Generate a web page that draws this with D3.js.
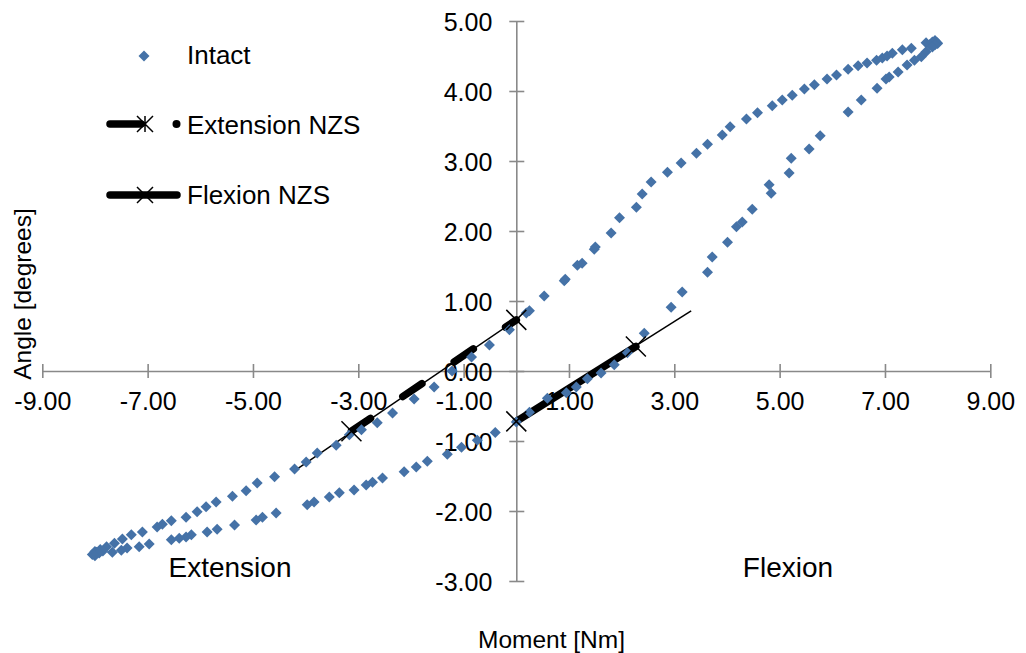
<!DOCTYPE html>
<html>
<head>
<meta charset="utf-8">
<script src="https://cdn.jsdelivr.net/npm/d3@7"></script>
<style>
  html, body { margin: 0; padding: 0; background: #fff; }
  svg { display: block; font-family: "Liberation Sans", Arial, sans-serif; }
</style>
</head>
<body>
<svg id="chart" width="1026" height="653"></svg>
<script>
// ---------------- data ----------------
const xTicks = [-9, -7, -5, -3, -1, 1, 3, 5, 7, 9];
const yTicks = [-3, -2, -1, 0, 1, 2, 3, 4, 5];

// Intact: branch running from extension end up to flexion end (upper)
const upperM = [-8.05, -8.0, -7.97, -7.9, -7.78, -7.63, -7.48, -7.31, -7.10, -6.82, -6.72, -6.55, -6.27, -6.06, -5.89, -5.70, -5.39, -5.13, -4.92, -4.59, -4.21, -3.99, -3.78, -3.42, -3.17, -2.94, -2.64, -2.35, -1.94, -1.56, -1.22, -0.85, -0.51, -0.13, 0.19, 0.25, 0.53, 0.91, 0.93, 1.16, 1.25, 1.48, 1.50, 1.80, 1.96, 2.28, 2.39, 2.56, 2.87, 3.13, 3.42, 3.63, 3.91, 4.06, 4.37, 4.58, 4.86, 5.05, 5.24, 5.47, 5.66, 5.90, 6.08, 6.30, 6.49, 6.66, 6.84, 6.95, 7.04, 7.14, 7.33, 7.50, 7.78, 7.85, 7.90, 7.95, 7.99, 8.0];
const upperA = [-2.62, -2.58, -2.59, -2.55, -2.51, -2.46, -2.40, -2.34, -2.30, -2.23, -2.19, -2.14, -2.09, -2.01, -1.94, -1.87, -1.79, -1.71, -1.60, -1.51, -1.40, -1.30, -1.17, -1.06, -0.91, -0.84, -0.74, -0.60, -0.40, -0.23, 0.00, 0.20, 0.37, 0.59, 0.83, 0.86, 1.07, 1.29, 1.31, 1.51, 1.54, 1.74, 1.77, 1.97, 2.19, 2.34, 2.53, 2.70, 2.84, 2.97, 3.11, 3.24, 3.37, 3.49, 3.60, 3.69, 3.79, 3.87, 3.94, 4.03, 4.09, 4.17, 4.23, 4.31, 4.36, 4.40, 4.44, 4.47, 4.50, 4.54, 4.59, 4.61, 4.69, 4.66, 4.70, 4.72, 4.69, 4.68];

// Intact: branch running from flexion end back to extension end (lower)
const lowerM = [7.95, 7.90, 7.78, 7.69, 7.56, 7.42, 7.25, 7.08, 7.02, 6.85, 6.55, 6.30, 5.77, 5.56, 5.22, 5.18, 4.80, 4.84, 4.48, 4.29, 4.18, 4.01, 3.72, 3.63, 3.15, 2.94, 2.43, 2.11, 1.86, 1.61, 1.35, 1.14, 0.95, 0.59, 0.25, 0.00, -0.40, -0.74, -1.04, -1.31, -1.69, -1.90, -2.13, -2.54, -2.73, -2.85, -3.08, -3.36, -3.55, -3.84, -3.97, -4.56, -4.82, -4.94, -5.35, -5.68, -5.87, -6.17, -6.27, -6.40, -6.55, -6.97, -7.16, -7.39, -7.50, -7.67, -7.85, -7.92, -8.0];
const lowerA = [4.66, 4.63, 4.56, 4.49, 4.44, 4.37, 4.27, 4.20, 4.17, 4.04, 3.87, 3.70, 3.36, 3.17, 3.04, 2.83, 2.66, 2.54, 2.31, 2.13, 2.06, 1.84, 1.63, 1.41, 1.13, 0.91, 0.54, 0.26, 0.09, -0.03, -0.11, -0.23, -0.31, -0.39, -0.59, -0.73, -0.88, -0.99, -1.09, -1.19, -1.29, -1.37, -1.44, -1.53, -1.59, -1.63, -1.70, -1.74, -1.80, -1.87, -1.91, -2.03, -2.09, -2.13, -2.20, -2.26, -2.30, -2.34, -2.37, -2.39, -2.41, -2.47, -2.51, -2.53, -2.56, -2.59, -2.57, -2.60, -2.64];

// Extension neutral-zone stiffness segment and its trend line
const extNzsM = [-3.13, 0.0];
const extNzsA = [-0.86, 0.73];
const extTrendM = [-4.2, 0.0];
const extTrendA = [-1.42, 0.73];

// Flexion neutral-zone stiffness segment and its trend line
const flexNzsM = [0.0, 2.27];
const flexNzsA = [-0.72, 0.35];
const flexTrendM = [0.0, 3.32];
const flexTrendA = [-0.72, 0.86];

const seriesNames = ["Intact", "Extension NZS", "Flexion NZS"];
const regionLabels = ["Extension", "Flexion"];
const xTitle = "Moment [Nm]";
const yTitle = "Angle [degrees]";

// ---------------- drawing ----------------
const svg = d3.select("#chart");
const x = d3.scaleLinear().domain([-9, 9]).range([42.3, 990.3]);
const y = d3.scaleLinear().domain([-3, 5]).range([581, 21]);

const blue = "#4572A7";
const axisGrey = "#898989";
const fmt = d => d.toFixed(2);
const zip = (a, b) => a.map((v, i) => [v, b[i]]);

// axes (crossing at origin, cross-type ticks)
const xAxis = svg.append("g").attr("transform", `translate(0,${y(0)})`)
  .call(d3.axisBottom(x).tickValues(xTicks).tickSize(7).tickSizeOuter(0).tickFormat(fmt));
xAxis.select(".domain").attr("stroke", axisGrey).attr("stroke-width", 1.6);
xAxis.selectAll(".tick line").attr("stroke", axisGrey).attr("stroke-width", 1.6).attr("y1", -7);
xAxis.selectAll(".tick text").attr("y", 39).attr("dy", null)
  .attr("font-size", 25).attr("fill", "#000").attr("font-family", "Liberation Sans, Arial, sans-serif");

const yAxis = svg.append("g").attr("transform", `translate(${x(0)},0)`)
  .call(d3.axisLeft(y).tickValues(yTicks).tickSize(7).tickSizeOuter(0).tickFormat(fmt));
yAxis.select(".domain").attr("stroke", axisGrey).attr("stroke-width", 1.6);
yAxis.selectAll(".tick line").attr("stroke", axisGrey).attr("stroke-width", 1.6).attr("x1", 8);
yAxis.selectAll(".tick text").attr("x", -24).attr("dy", "0.36em")
  .attr("font-size", 25).attr("fill", "#000").attr("font-family", "Liberation Sans, Arial, sans-serif");

const line = d3.line().x(d => x(d[0])).y(d => y(d[1]));

// trend lines (thin)
svg.append("path").attr("d", line(zip(extTrendM, extTrendA)))
  .attr("fill", "none").attr("stroke", "#000").attr("stroke-width", 1.5);
svg.append("path").attr("d", line(zip(flexTrendM, flexTrendA)))
  .attr("fill", "none").attr("stroke", "#000").attr("stroke-width", 1.5);

// NZS thick lines
svg.append("path").attr("d", line(zip(extNzsM, extNzsA)))
  .attr("fill", "none").attr("stroke", "#000").attr("stroke-width", 7.5)
  .attr("stroke-linecap", "round").attr("stroke-dasharray", "23,39");
svg.append("path").attr("d", line(zip(flexNzsM, flexNzsA)))
  .attr("fill", "none").attr("stroke", "#000").attr("stroke-width", 7.5)
  .attr("stroke-linecap", "round");

// intact diamonds
const diamond = "M0,-5.5L5.5,0L0,5.5L-5.5,0Z";
const intact = zip(upperM, upperA).concat(zip(lowerM, lowerA));
svg.append("g").selectAll("path").data(intact).join("path")
  .attr("d", diamond).attr("fill", blue)
  .attr("transform", d => `translate(${x(d[0])},${y(d[1])})`);

// X markers at NZS endpoints
const xMark = r => `M${-r},${-r}L${r},${r}M${-r},${r}L${r},${-r}`;
const nzsPts = zip(extNzsM, extNzsA).concat(zip(flexNzsM, flexNzsA));
svg.append("g").selectAll("path").data(nzsPts).join("path")
  .attr("d", xMark(10)).attr("stroke", "#000").attr("stroke-width", 1.5).attr("fill", "none")
  .attr("transform", d => `translate(${x(d[0])},${y(d[1])})`);

// region labels
svg.append("text").text(regionLabels[0]).attr("x", 230).attr("y", 577)
  .attr("text-anchor", "middle").attr("font-size", 28);
svg.append("text").text(regionLabels[1]).attr("x", 788).attr("y", 577)
  .attr("text-anchor", "middle").attr("font-size", 28);

// axis titles
svg.append("text").text(xTitle).attr("x", 551.5).attr("y", 648)
  .attr("text-anchor", "middle").attr("font-size", 24.5);
svg.append("text").text(yTitle).attr("transform", "translate(31,294) rotate(-90)")
  .attr("text-anchor", "middle").attr("font-size", 24.5);

// legend
const lg = svg.append("g").attr("font-size", 26);
lg.append("path").attr("d", diamond).attr("fill", blue).attr("transform", "translate(144,56)");
lg.append("text").text(seriesNames[0]).attr("x", 187).attr("y", 64);

lg.append("line").attr("x1", 110).attr("x2", 141).attr("y1", 124).attr("y2", 124)
  .attr("stroke", "#000").attr("stroke-width", 7.5).attr("stroke-linecap", "round");
lg.append("circle").attr("cx", 176.5).attr("cy", 124).attr("r", 4).attr("fill", "#000");
lg.append("path").attr("d", xMark(8) + "M0,-8L0,8").attr("stroke", "#000").attr("stroke-width", 1.5)
  .attr("transform", "translate(145,124)");
lg.append("text").text(seriesNames[1]).attr("x", 187).attr("y", 134);

lg.append("line").attr("x1", 110).attr("x2", 177).attr("y1", 195).attr("y2", 195)
  .attr("stroke", "#000").attr("stroke-width", 7.5).attr("stroke-linecap", "round");
lg.append("path").attr("d", xMark(8)).attr("stroke", "#000").attr("stroke-width", 1.5)
  .attr("transform", "translate(145,195)");
lg.append("text").text(seriesNames[2]).attr("x", 187).attr("y", 204);
</script>
</body>
</html>
